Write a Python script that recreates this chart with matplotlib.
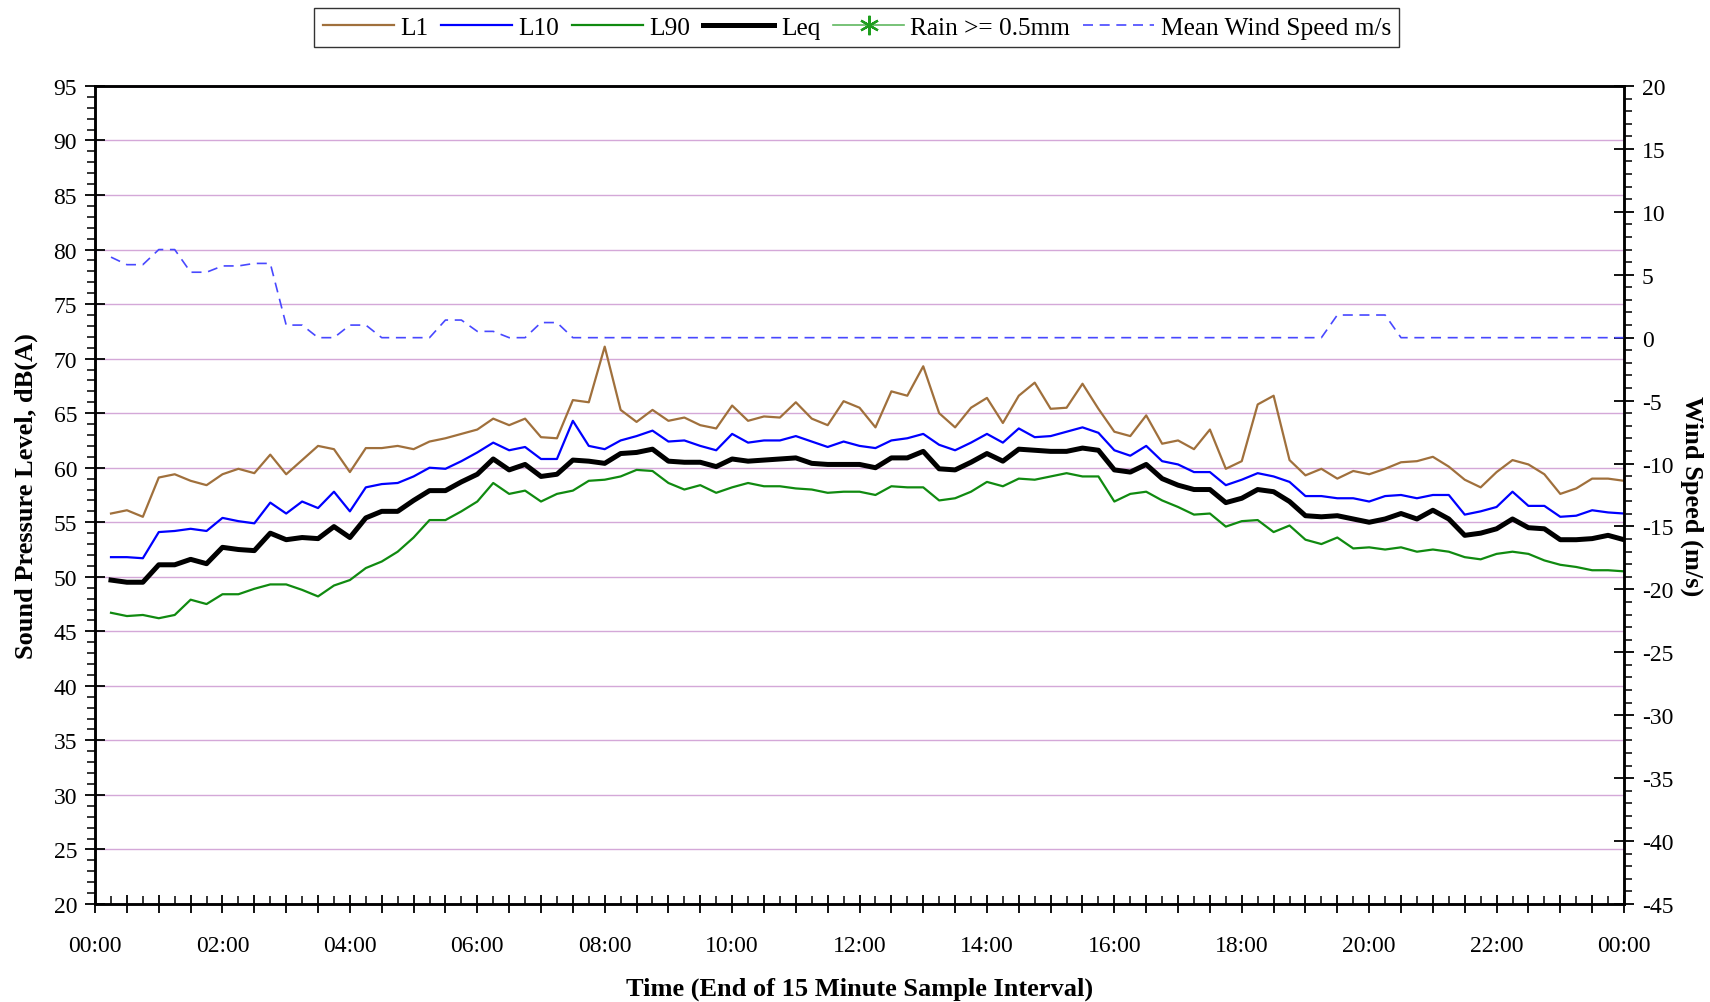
import numpy as np
import matplotlib
matplotlib.use("Agg")

import matplotlib.pyplot as plt
from matplotlib.ticker import MultipleLocator, FuncFormatter

plt.rcParams["font.family"] = ["Liberation Serif", "DejaVu Serif"]
plt.rcParams["axes.unicode_minus"] = False

# 15 minute intervals, time stamp = end of interval (hours)
hours = np.arange(1, 97) * 0.25

l1 = [55.8, 56.1, 55.5, 59.1, 59.4, 58.8, 58.4, 59.4, 59.9, 59.5, 61.2, 59.4,
      60.7, 62.0, 61.7, 59.6, 61.8, 61.8, 62.0, 61.7, 62.4, 62.7, 63.1, 63.5,
      64.5, 63.9, 64.5, 62.8, 62.7, 66.2, 66.0, 71.1, 65.3, 64.2, 65.3, 64.3,
      64.6, 63.9, 63.6, 65.7, 64.3, 64.7, 64.6, 66.0, 64.5, 63.9, 66.1, 65.5,
      63.7, 67.0, 66.6, 69.3, 65.0, 63.7, 65.5, 66.4, 64.1, 66.6, 67.8, 65.4,
      65.5, 67.7, 65.4, 63.3, 62.9, 64.8, 62.2, 62.5, 61.7, 63.5, 59.9, 60.6,
      65.8, 66.6, 60.7, 59.3, 59.9, 59.0, 59.7, 59.4, 59.9, 60.5, 60.6, 61.0,
      60.1, 58.9, 58.2, 59.6, 60.7, 60.3, 59.4, 57.6, 58.1, 59.0, 59.0, 58.8]

l10 = [51.8, 51.8, 51.7, 54.1, 54.2, 54.4, 54.2, 55.4, 55.1, 54.9, 56.8, 55.8,
       56.9, 56.3, 57.8, 56.0, 58.2, 58.5, 58.6, 59.2, 60.0, 59.9, 60.6, 61.4,
       62.3, 61.6, 61.9, 60.8, 60.8, 64.3, 62.0, 61.7, 62.5, 62.9, 63.4, 62.4,
       62.5, 62.0, 61.6, 63.1, 62.3, 62.5, 62.5, 62.9, 62.4, 61.9, 62.4, 62.0,
       61.8, 62.5, 62.7, 63.1, 62.1, 61.6, 62.3, 63.1, 62.3, 63.6, 62.8, 62.9,
       63.3, 63.7, 63.2, 61.6, 61.1, 62.0, 60.6, 60.3, 59.6, 59.6, 58.4, 58.9,
       59.5, 59.2, 58.7, 57.4, 57.4, 57.2, 57.2, 56.9, 57.4, 57.5, 57.2, 57.5,
       57.5, 55.7, 56.0, 56.4, 57.8, 56.5, 56.5, 55.5, 55.6, 56.1, 55.9, 55.8]

l90 = [46.7, 46.4, 46.5, 46.2, 46.5, 47.9, 47.5, 48.4, 48.4, 48.9, 49.3, 49.3,
       48.8, 48.2, 49.2, 49.7, 50.8, 51.4, 52.3, 53.6, 55.2, 55.2, 56.0, 56.9,
       58.6, 57.6, 57.9, 56.9, 57.6, 57.9, 58.8, 58.9, 59.2, 59.8, 59.7, 58.6,
       58.0, 58.4, 57.7, 58.2, 58.6, 58.3, 58.3, 58.1, 58.0, 57.7, 57.8, 57.8,
       57.5, 58.3, 58.2, 58.2, 57.0, 57.2, 57.8, 58.7, 58.3, 59.0, 58.9, 59.2,
       59.5, 59.2, 59.2, 56.9, 57.6, 57.8, 57.0, 56.4, 55.7, 55.8, 54.6, 55.1,
       55.2, 54.1, 54.7, 53.4, 53.0, 53.6, 52.6, 52.7, 52.5, 52.7, 52.3, 52.5,
       52.3, 51.8, 51.6, 52.1, 52.3, 52.1, 51.5, 51.1, 50.9, 50.6, 50.6, 50.5]

leq = [49.7, 49.5, 49.5, 51.1, 51.1, 51.6, 51.2, 52.7, 52.5, 52.4, 54.0, 53.4,
       53.6, 53.5, 54.6, 53.6, 55.4, 56.0, 56.0, 57.0, 57.9, 57.9, 58.7, 59.4,
       60.8, 59.8, 60.3, 59.2, 59.4, 60.7, 60.6, 60.4, 61.3, 61.4, 61.7, 60.6,
       60.5, 60.5, 60.1, 60.8, 60.6, 60.7, 60.8, 60.9, 60.4, 60.3, 60.3, 60.3,
       60.0, 60.9, 60.9, 61.5, 59.9, 59.8, 60.5, 61.3, 60.6, 61.7, 61.6, 61.5,
       61.5, 61.8, 61.6, 59.8, 59.6, 60.3, 59.0, 58.4, 58.0, 58.0, 56.8, 57.2,
       58.0, 57.8, 56.9, 55.6, 55.5, 55.6, 55.3, 55.0, 55.3, 55.8, 55.3, 56.1,
       55.3, 53.8, 54.0, 54.4, 55.3, 54.5, 54.4, 53.4, 53.4, 53.5, 53.8, 53.4]

wind = [6.4, 5.8, 5.8, 7.0, 7.0, 5.2, 5.2, 5.7, 5.7, 5.9, 5.9, 1.0,
        1.0, 0.0, 0.0, 1.0, 1.0, 0.0, 0.0, 0.0, 0.0, 1.4, 1.4, 0.5,
        0.5, 0.0, 0.0, 1.2, 1.2, 0.0, 0.0, 0.0, 0.0, 0.0, 0.0, 0.0,
        0.0, 0.0, 0.0, 0.0, 0.0, 0.0, 0.0, 0.0, 0.0, 0.0, 0.0, 0.0,
        0.0, 0.0, 0.0, 0.0, 0.0, 0.0, 0.0, 0.0, 0.0, 0.0, 0.0, 0.0,
        0.0, 0.0, 0.0, 0.0, 0.0, 0.0, 0.0, 0.0, 0.0, 0.0, 0.0, 0.0,
        0.0, 0.0, 0.0, 0.0, 0.0, 1.8, 1.8, 1.8, 1.8, 0.0, 0.0, 0.0,
        0.0, 0.0, 0.0, 0.0, 0.0, 0.0, 0.0, 0.0, 0.0, 0.0, 0.0, 0.0]

# no interval reached the rain threshold
rain_hours = []
rain_level = []

TICK_FS = 17
LABEL_FS = 19

fig = plt.figure(figsize=(17.10, 10.03), dpi=100)
ax = fig.add_axes([0.0556, 0.0977, 0.8941, 0.8156])
ax2 = ax.twinx()

h_l1, = ax.plot(hours, l1, color="#A0703C", lw=1.6, label="L1")
h_l10, = ax.plot(hours, l10, color="#0000FF", lw=1.6, label="L10")
h_l90, = ax.plot(hours, l90, color="#108A10", lw=1.6, label="L90")
h_leq, = ax.plot(hours, leq, color="black", lw=3.6, label="Leq")
h_rain, = ax.plot(rain_hours, rain_level, color="#60B860", lw=1.2,
                  marker=(6, 2, 0), markersize=14, markeredgecolor="#1E9E1E",
                  markeredgewidth=1.6, label="Rain >= 0.5mm")
h_wind, = ax2.plot(hours, wind, color="#4848FF", lw=1.2,
                   linestyle=(0, (6, 4)), label="Mean Wind Speed m/s")

# left axis: sound level
ax.set_xlim(0, 24)
ax.set_ylim(20, 95)
ax.yaxis.set_major_locator(MultipleLocator(5))
ax.yaxis.set_minor_locator(MultipleLocator(1))
ax.grid(axis="y", which="major", color="#D4A8D8", lw=1.0)
ax.set_axisbelow(True)

ax.xaxis.set_major_locator(MultipleLocator(0.5))
ax.xaxis.set_minor_locator(MultipleLocator(0.25))
ax.xaxis.set_major_formatter(FuncFormatter(
    lambda x, pos: f"{int(round(x)) % 24:02d}:00" if abs(x / 2 - round(x / 2)) < 1e-6 else ""))

ax.tick_params(axis="y", which="major", direction="inout", length=14, width=1.3,
               labelsize=TICK_FS, pad=6, right=False)
ax.tick_params(axis="y", which="minor", direction="out", length=6, width=1.1, right=False)
ax.tick_params(axis="x", which="major", direction="inout", length=13, width=1.3,
               labelsize=TICK_FS, pad=16)
ax.tick_params(axis="x", which="minor", direction="in", length=6, width=1.1)

# right axis: wind
ax2.set_ylim(-45, 20)
ax2.yaxis.set_major_locator(MultipleLocator(5))
ax2.yaxis.set_minor_locator(MultipleLocator(1))
ax2.tick_params(axis="y", which="major", direction="inout", length=14, width=1.3,
                labelsize=TICK_FS, pad=6)
ax2.tick_params(axis="y", which="minor", direction="out", length=6, width=1.1)

for a in (ax, ax2):
    for sp in a.spines.values():
        sp.set_linewidth(1.8)
        sp.set_color("black")

ax.set_xlabel("Time (End of 15 Minute Sample Interval)", fontsize=LABEL_FS, fontweight="bold")
ax.xaxis.set_label_coords(0.5, -0.1027)
ax.xaxis.label.set_va("center")

ax.set_ylabel("Sound Pressure Level, dB(A)", fontsize=LABEL_FS, fontweight="bold")
ax.yaxis.set_label_coords(-0.0450, 0.5)
ax.yaxis.label.set_va("center")

ax2.set_ylabel("Wind Speed (m/s)", fontsize=LABEL_FS, fontweight="bold", rotation=-90)
ax2.yaxis.set_label_coords(1.0440, 0.5)
ax2.yaxis.label.set_va("center")

handles = [h_l1, h_l10, h_l90, h_leq, h_rain, h_wind]
leg = fig.legend(handles, [h.get_label() for h in handles], loc="center",
                 bbox_to_anchor=(0.501, 0.9712), ncol=6, fontsize=18.3,
                 frameon=True, fancybox=False, edgecolor="black",
                 handlelength=2.8, handletextpad=0.25, columnspacing=0.5,
                 borderpad=0.32, borderaxespad=0.0)
leg.get_frame().set_linewidth(1.0)

fig.savefig("out.png", dpi=100)
plt.close(fig)
